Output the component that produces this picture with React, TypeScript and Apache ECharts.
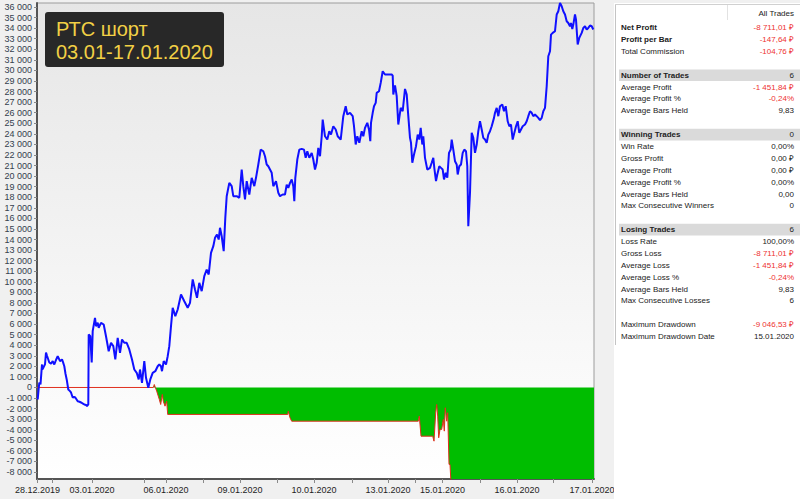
import React, { useEffect, useRef } from "react";
import * as echarts from "echarts";

// ---- Equity curve (bar index, value) ----
const equityBars = [
  0.7, 1.5, 2.3, 3.5, 5, 5.3, 6.5, 8, 9, 10, 12.3, 14, 15.7, 17.3, 19, 20.7, 22, 23, 25, 26, 27.3, 28.5, 29.7, 31.3, 32.5, 34, 35.7, 37, 38.3, 40.7, 42.5, 44, 45.5, 47.3, 49, 50, 51.3,
  51.7, 53.3, 54.7, 55.7, 58, 59, 60.7, 61.7, 64, 66.7, 69, 71.7, 74, 76.3, 78.3, 80.7, 83, 85, 87.3, 89.7, 92.3, 95, 97.3, 99.7, 101.7, 103, 105, 107.3, 109, 111.3, 113.3, 115.7,
  118.3, 120.7, 122.3, 124, 125, 126.7, 129, 130.7, 132.3, 134, 135.7, 138.3, 140.7, 144, 147.3, 150.7, 153, 155.7, 158, 160, 162.3, 164.7, 167.3, 169.7, 171.7, 174, 176.3, 178,
  180, 181.7, 183, 184.7, 186.7, 188.3, 189.7, 192.3, 194.7, 196.3, 199.7, 202.3, 204.7, 206.3, 208, 209.7, 212.3, 214.7, 217.3, 219, 221.3, 223.7, 226.3, 228, 229.7, 231.3, 233,
  234.7, 236.3, 239, 241.3, 243, 245.7, 248, 249.7, 251.3, 253, 254.7, 256.3, 257.3, 258.3, 260.3, 262.3, 264.7, 267, 268.7, 270.3, 272.3, 274.7, 276.3, 278, 279.7, 281.3, 283,
  284.7, 285.7, 288, 290.3, 292.3, 294, 296.3, 298.7, 300.7, 303.7, 306.3, 308.7, 310.3, 313, 315.7, 317, 318.7, 320.3, 322.3, 324.7, 326.3, 328, 330.3, 332, 333.3, 334, 335.7,
  337, 338.7, 339.7, 342, 343.7, 345.7, 348, 351.3, 354.7, 355.7, 356.3, 358, 359.7, 361.3, 363.7, 365.7, 368, 369.7, 371.3, 373, 374, 375.3, 377, 379, 380.7, 382.3, 383.7, 385.3,
  386.3, 388, 390.3, 393, 394.7, 396.3, 397.3, 399, 400.3, 402.3, 404, 405.7, 407, 408.7, 410.3, 412, 413.7, 414.7, 416.3, 418, 419.7, 420.7, 422.3, 424, 425.7, 427.3, 429, 430.3,
  431.3, 433, 434.7, 436.3, 438, 439.7, 441.3, 443, 444.7, 446.3, 448, 449.7, 451.3, 453, 454.7, 457, 458, 459.7, 461.3, 463, 465.3, 467, 468.7, 470.7, 472.3, 474, 475.7, 477.3,
  479, 480.7, 482.3, 484, 485.7, 488, 489.7, 491.3, 493, 494.7, 496.3, 498, 499.7, 501.3, 503, 504.7, 506.3, 508, 509.7, 511.3, 513, 514, 515.7, 518, 519.7, 521.3, 523, 524.7,
  526.3, 528, 529.7, 531.3, 533, 534, 535.3, 536.3, 538, 539, 540.7, 542.3, 544.7, 546.3, 548, 549.7, 551.3, 553, 554.7, 556.3,
];
const equityValues = [
  -1140, -300, 470, 300, 2180, 1700, 1900, 2200, 3300, 3000, 2360, 2250, 2490, 2180, 2600, 2960, 2700, 2490, 2650, 2400, 2010, 1300, 760, -190, -300, -470, -950, -900, -950, -1300, -1350, -1420, -1500, -1610, -1650, -1770, -1610,
  5010, 4850, 2360, 5330, 6590, 5800, 6120, 5650, 6120, 5960, 4850, 3430, 4230, 3910, 2650, 4700, 3280, 4540, 4230, 4230, 3600, 2650, 1700, 1390, 760, 1700, 440, 2490, 920, -30, 760, 1390,
  1540, 2010, 2180, 2010, 1540, 2490, 2180, 2960, 3910, 5800, 7540, 6750, 7380, 8800, 8160, 7540, 8010, 10220, 9270, 8480, 9900, 9110, 10530, 11160, 10690, 12740, 13370, 14160,
  14470, 14000, 15110, 14310, 12900, 16050, 18100, 19360, 19050, 18100, 18100, 17950, 20620, 19050, 17790, 19520, 18260, 19840, 19050, 19840, 21100, 22510, 22350, 21880, 21100, 20930, 20620,
  20310, 19050, 19520, 18420, 18100, 18260, 18260, 19200, 18890, 19360, 19680, 19050, 17630, 19840, 21570, 22510, 22580, 22510, 21730, 22350, 21730, 22200, 21570, 20620, 21260, 22670, 21880,
  23770, 25350, 23770, 23460, 24250, 23930, 24720, 24410, 23770, 23460, 25670, 26610, 25830, 25990, 25670, 24720, 22990, 23770, 23150, 24250, 23770, 24560, 25040, 24410, 23300, 25040, 25990,
  26610, 26930, 27880, 28030, 28820, 29920, 29610, 29610, 29610, 29510, 27720, 28580, 27560, 24880, 26460, 26140, 28250, 27720, 25670, 23620, 23150, 21260, 22040, 22830, 23930, 23460, 24560, 22990,
  23770, 21730, 20620, 20780, 21260, 21730, 20780, 19520, 20150, 20930, 20780, 20620, 19680, 20310, 19840, 22200, 22510, 23460, 22510, 21410, 21100, 20150, 20930, 21100, 22200, 22510, 22350, 20930,
  15260, 18420, 24090, 23620, 22200, 22990, 24250, 25190, 24410, 23620, 23460, 23150, 23930, 24250, 24720, 25510, 25990, 26460, 25670, 26610, 26770, 26140, 26610, 25190, 24720, 24880, 23460, 24090,
  24720, 25190, 24090, 24410, 24720, 24880, 25190, 25670, 26140, 25990, 25670, 25830, 25670, 25510, 25300, 25510, 26140, 26460, 28500, 31340, 31810, 33390, 33550, 33710, 35290, 35600, 36390, 36070,
  35600, 35290, 34650, 34490, 34180, 34490, 33920, 34340, 35290, 34810, 32450, 33080, 33550, 34020, 34180, 33870, 34020, 34250, 34180, 33870,
];

// ---- Drawdown curve (bar index, value) ----
const ddBars = [
  0, 116.3, 117.3, 119.7, 122.3, 123.7, 125.3, 126.3, 128, 129.7, 130.7, 250.7, 251.3, 253, 254.7, 381.3, 382.3, 384, 395.7, 397, 398.7, 399.7, 400.7, 401.7, 403, 404.7, 406.3,
  407.3, 408.3, 409.7, 410.7, 412, 413, 414, 557,
];
const ddValues = [
  0, 0, 280, -350, -1130, -1610, -660, -1300, -1770, -1300, -2550, -2550, -2240, -2870, -3190, -3190, -2710, -4610, -4610, -5080, -2390, -1610, -2710, -4760, -3970, -3970, -3030,
  -4130, -1920, -3190, -2390, -7280, -7280, -9047, -9047,
];
const firstTradeBar = 116.3;

// ---- Axes ----
const yTicks = [
  -8000, -7000, -6000, -5000, -4000, -3000, -2000, -1000, 0, 1000, 2000, 3000, 4000, 5000, 6000, 7000, 8000, 9000, 10000, 11000, 12000, 13000, 14000, 15000, 16000, 17000, 18000,
  19000, 20000, 21000, 22000, 23000, 24000, 25000, 26000, 27000, 28000, 29000, 30000, 31000, 32000, 33000, 34000, 35000, 36000,
];
const dateBars = [0.5, 55, 129, 203, 277, 351, 405.5, 480, 555];
const dateLabels = ["28.12.2019", "03.01.2020", "06.01.2020", "09.01.2020", "10.01.2020", "13.01.2020", "15.01.2020", "16.01.2020", "17.01.2020"];
const minorTickBars = [15, 107, 166, 240, 315, 378, 443, 516];

// ---- Title ----
const titleLines = ["РТС шорт", "03.01-17.01.2020"];

// ---- Stats panel ----
const statHeader = "All Trades";
const statLabels = [
  "Net Profit", "Profit per Bar", "Total Commission", "",
  "Number of Trades", "Average Profit", "Average Profit %", "Average Bars Held", "",
  "Winning Trades", "Win Rate", "Gross Profit", "Average Profit", "Average Profit %", "Average Bars Held", "Max Consecutive Winners", "",
  "Losing Trades", "Loss Rate", "Gross Loss", "Average Loss", "Average Loss %", "Average Bars Held", "Max Consecutive Losses", "",
  "Maximum Drawdown", "Maximum Drawdown Date",
];
const statValues = [
  "-8 711,01 ₽", "-147,64 ₽", "-104,76 ₽", "",
  "6", "-1 451,84 ₽", "-0,24%", "9,83", "",
  "0", "0,00%", "0,00 ₽", "0,00 ₽", "0,00%", "0,00", "0", "",
  "6", "100,00%", "-8 711,01 ₽", "-1 451,84 ₽", "-0,24%", "9,83", "6", "",
  "-9 046,53 ₽", "15.01.2020",
];
const statKinds = [
  "b", "b", "n", "",
  "h", "n", "n", "n", "",
  "h", "n", "n", "n", "n", "n", "n", "",
  "h", "n", "n", "n", "n", "n", "n", "",
  "n", "n",
];

const FONT = "'Liberation Sans', Arial, sans-serif";

function fmtThousands(v: number): string {
  return String(v).replace(/\B(?=(\d{3})+(?!\d))/g, " ");
}

export default function App() {
  const ref = useRef<HTMLDivElement>(null);

  useEffect(() => {
    if (!ref.current) return;
    const chart = echarts.init(ref.current, undefined, { renderer: "svg" });

    const equityData = equityBars.map((b, i) => [b, equityValues[i]]);
    const ddData = ddBars.map((b, i) => [b, ddValues[i]]);
    const ddAreaData = ddData.filter((d) => d[0] >= firstTradeBar);

    const graphics: any[] = [];
    // Title box
    graphics.push({
      type: "rect",
      shape: { x: 45, y: 12, width: 179, height: 55, r: 3 },
      style: { fill: "#282828" },
      z: 100,
    });
    titleLines.forEach((t, i) => {
      graphics.push({
        type: "text",
        x: 56,
        y: i === 0 ? 29 : 52,
        style: {
          text: t,
          fill: "#f2d045",
          fontSize: 20,
          fontFamily: FONT,
          textAlign: "left",
          textVerticalAlign: "middle",
        },
        z: 101,
      });
    });

    // Stats panel
    graphics.push({ type: "rect", shape: { x: 614, y: 3, width: 186, height: 496 }, style: { fill: "#ffffff" }, z: 100 });
    graphics.push({ type: "line", shape: { x1: 615.5, y1: 4, x2: 615.5, y2: 345 }, style: { stroke: "#c4c4c4", lineWidth: 1 }, z: 101 });
    graphics.push({ type: "line", shape: { x1: 615, y1: 4.5, x2: 800, y2: 4.5 }, style: { stroke: "#d0d0d0", lineWidth: 1 }, z: 101 });
    graphics.push({ type: "line", shape: { x1: 727.5, y1: 5, x2: 727.5, y2: 20 }, style: { stroke: "#e2e2e2", lineWidth: 1 }, z: 101 });
    graphics.push({
      type: "text",
      x: 794,
      y: 13.5,
      style: { text: statHeader, fill: "#222222", fontSize: 8, fontFamily: FONT, textAlign: "right", textVerticalAlign: "middle" },
      z: 102,
    });
    const rowStart = 27.7;
    const pitch = 11.88;
    statLabels.forEach((lab, i) => {
      if (!lab) return;
      const y = rowStart + i * pitch;
      const kind = statKinds[i];
      if (kind === "h") {
        graphics.push({ type: "rect", shape: { x: 619, y: y - 5.8, width: 181, height: 11.6 }, style: { fill: "#dadada" }, z: 101 });
      }
      const bold = kind === "h" || kind === "b";
      graphics.push({
        type: "text",
        x: 621,
        y,
        style: {
          text: lab,
          fill: "#222222",
          fontSize: 8,
          fontWeight: bold ? "bold" : "normal",
          fontFamily: FONT,
          textAlign: "left",
          textVerticalAlign: "middle",
        },
        z: 102,
      });
      const val = statValues[i];
      graphics.push({
        type: "text",
        x: 794,
        y,
        style: {
          text: val,
          fill: val.startsWith("-") ? "#ee3232" : "#222222",
          fontSize: 8,
          fontFamily: FONT,
          textAlign: "right",
          textVerticalAlign: "middle",
        },
        z: 102,
      });
    });

    const option: any = {
      animation: false,
      backgroundColor: "#f0f0f0",
      grid: {
        left: 37,
        top: 3,
        width: 557,
        height: 476,
        show: true,
        backgroundColor: new echarts.graphic.LinearGradient(0, 0, 0, 1, [
          { offset: 0, color: "#e6e6e6" },
          { offset: 1, color: "#ffffff" },
        ]),
        borderColor: "#9c9c9c",
        borderWidth: 1,
      },
      xAxis: {
        type: "value",
        min: 0,
        max: 557,
        axisLine: { show: true, onZero: false, lineStyle: { color: "#555555", width: 2 } },
        axisTick: {
          show: true,
          customValues: [...dateBars, ...minorTickBars],
          length: 4,
          lineStyle: { color: "#8a8a8a" },
        },
        axisLabel: {
          customValues: dateBars,
          formatter: (v: number) => {
            const idx = dateBars.indexOf(v);
            return idx >= 0 ? dateLabels[idx] : "";
          },
          fontSize: 9,
          fontFamily: FONT,
          color: "#1e1e1e",
          margin: 6,
        },
        splitLine: { show: false },
      },
      yAxis: {
        type: "value",
        min: -8660,
        max: 36380,
        axisLine: { show: true, onZero: false, lineStyle: { color: "#555555", width: 2 } },
        axisTick: { show: true, customValues: yTicks, length: 3, lineStyle: { color: "#8a8a8a" } },
        axisLabel: {
          customValues: yTicks,
          formatter: (v: number) => fmtThousands(v),
          fontSize: 9,
          fontFamily: FONT,
          color: "#34404e",
          margin: 5,
        },
        splitLine: { show: false },
      },
      series: [
        {
          type: "line",
          data: ddAreaData,
          showSymbol: false,
          symbol: "none",
          clip: true,
          lineStyle: { width: 0, opacity: 0 },
          areaStyle: { color: "#00bd00", opacity: 1 },
          z: 2,
        },
        {
          type: "line",
          data: ddData,
          showSymbol: false,
          symbol: "none",
          clip: true,
          lineStyle: { color: "#e0301e", width: 1 },
          z: 3,
        },
        {
          type: "line",
          data: equityData,
          showSymbol: false,
          symbol: "none",
          clip: true,
          lineStyle: { color: "#1010ff", width: 2 },
          z: 4,
        },
      ],
      graphic: graphics,
    };

    chart.setOption(option);
    return () => chart.dispose();
  }, []);

  return (
    <div
      ref={ref}
      style={{ position: "fixed", left: 0, top: 0, width: 800, height: 499 }}
    />
  );
}
